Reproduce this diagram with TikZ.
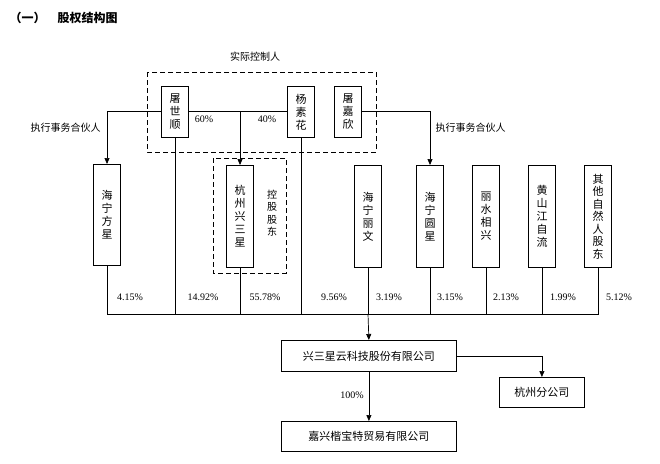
\documentclass[tikz,border=0pt]{standalone}
\usepackage{fontspec}
\setmainfont{Liberation Serif}
\newfontfamily\cjk{Noto Sans CJK SC}
\usetikzlibrary{arrows.meta}
\begin{document}
\begin{tikzpicture}[x=1pt,y=-1pt,
  vbox/.style={draw,line width=0.8pt,minimum width=27pt,inner sep=0pt,font=\cjk\fontsize{11}{13}\selectfont,align=center,anchor=north},
  hbox/.style={draw,line width=0.8pt,inner sep=0pt,font=\cjk\fontsize{11}{12}\selectfont,anchor=north west},
  ln/.style={line width=0.7pt},
  arr/.style={line width=0.7pt,-{Triangle[length=6pt,width=5pt]}},
  pct/.style={font=\fontsize{10}{11}\selectfont},
  lab/.style={font=\cjk\fontsize{10}{11}\selectfont},
  dbox/.style={draw,dashed,line width=0.9pt,dash pattern=on 5pt off 3pt}]
\useasboundingbox (0,0) rectangle (660,463);
\node[anchor=west,font=\cjk\bfseries\fontsize{12}{13}\selectfont] (title) at (6,18) {（一）\quad 股权结构图};
\draw[dbox] (147,72) rectangle (376,152);
\node[lab] (skr) at (255,57) {实际控制人};
\node[vbox,minimum height=51pt] (tss) at (175,86) {屠\\世\\顺};
\node[vbox,minimum height=51pt] (ysh) at (301,86) {杨\\素\\花};
\node[vbox,minimum height=51pt] (tjx) at (348,86) {屠\\嘉\\欣};
\draw[dbox] (213,158) rectangle (286,273);
\node[vbox,minimum height=102pt] (hz) at (240,165) {杭\\州\\兴\\三\\星};
\node[lab,align=center,font=\cjk\fontsize{10}{12.5}\selectfont] (kg) at (272,213) {控\\股\\股\\东};
\node[vbox,minimum height=101pt] (hfx) at (107,164) {海\\宁\\方\\星};
\node[vbox,minimum height=102pt] (hlw) at (368,165) {海\\宁\\丽\\文};
\node[vbox,minimum height=102pt] (hyx) at (430,165) {海\\宁\\圆\\星};
\node[vbox,minimum height=102pt] (lsx) at (486,165) {丽\\水\\相\\兴};
\node[vbox,minimum height=102pt] (hsj) at (542,165) {黄\\山\\江\\自\\流};
\node[vbox,minimum height=102pt,font=\cjk\fontsize{11}{12.5}\selectfont] (qt) at (598,165) {其\\他\\自\\然\\人\\股\\东};
\coordinate (jl) at (107,111);
\coordinate (jr) at (430,111);
\draw[ln] (jl) -- (tss.west |- jl);
\draw[ln] (tss.east |- jl) -- (ysh.west |- jl);
\draw[ln] (tjx.east |- jr) -- (jr);
\draw[arr] (jl) -- (hfx.north);
\draw[arr] (jr) -- (hyx.north);
\draw[arr] (hz.north |- jl) -- (hz.north);
\node[pct] (p60) at (204,119) {60\%};
\node[pct] (p40) at (267,119) {40\%};
\node[lab,anchor=west] (zx1) at (27,128) {执行事务合伙人};
\node[lab,anchor=west] (zx2) at (432,128) {执行事务合伙人};
\coordinate (bl) at (107,314);
\coordinate (br) at (598,314);
\draw[ln] (hfx.south) -- (bl) -- (br) -- (qt.south);
\foreach \n in {tss,ysh,hz,hlw,hyx,lsx,hsj} \draw[ln] (\n.south) -- (\n.south |- bl);
\node[pct] at (130,297) {4.15\%};
\node[pct] at (203,297) {14.92\%};
\node[pct] at (265,297) {55.78\%};
\node[pct] at (334,297) {9.56\%};
\node[pct] at (389,297) {3.19\%};
\node[pct] at (450,297) {3.15\%};
\node[pct] at (506,297) {2.13\%};
\node[pct] at (563,297) {1.99\%};
\node[pct] at (619,297) {5.12\%};
\node[hbox,minimum width=175pt,minimum height=31pt] (xsx) at (281,340) {兴三星云科技股份有限公司};
\node[hbox,minimum width=85pt,minimum height=30pt] (hzf) at (499,377) {杭州分公司};
\node[hbox,minimum width=175pt,minimum height=30pt] (jx) at (281,421) {嘉兴楷宝特贸易有限公司};
\draw[arr] (hlw.south |- bl) -- (xsx.north);
\draw[arr] (xsx.east) -- (hzf.north |- xsx.east) -- (hzf.north);
\draw[arr] (xsx.south) -- (jx.north);
\node[pct] (p100) at (352,395) {100\%};
\end{tikzpicture}
\end{document}
